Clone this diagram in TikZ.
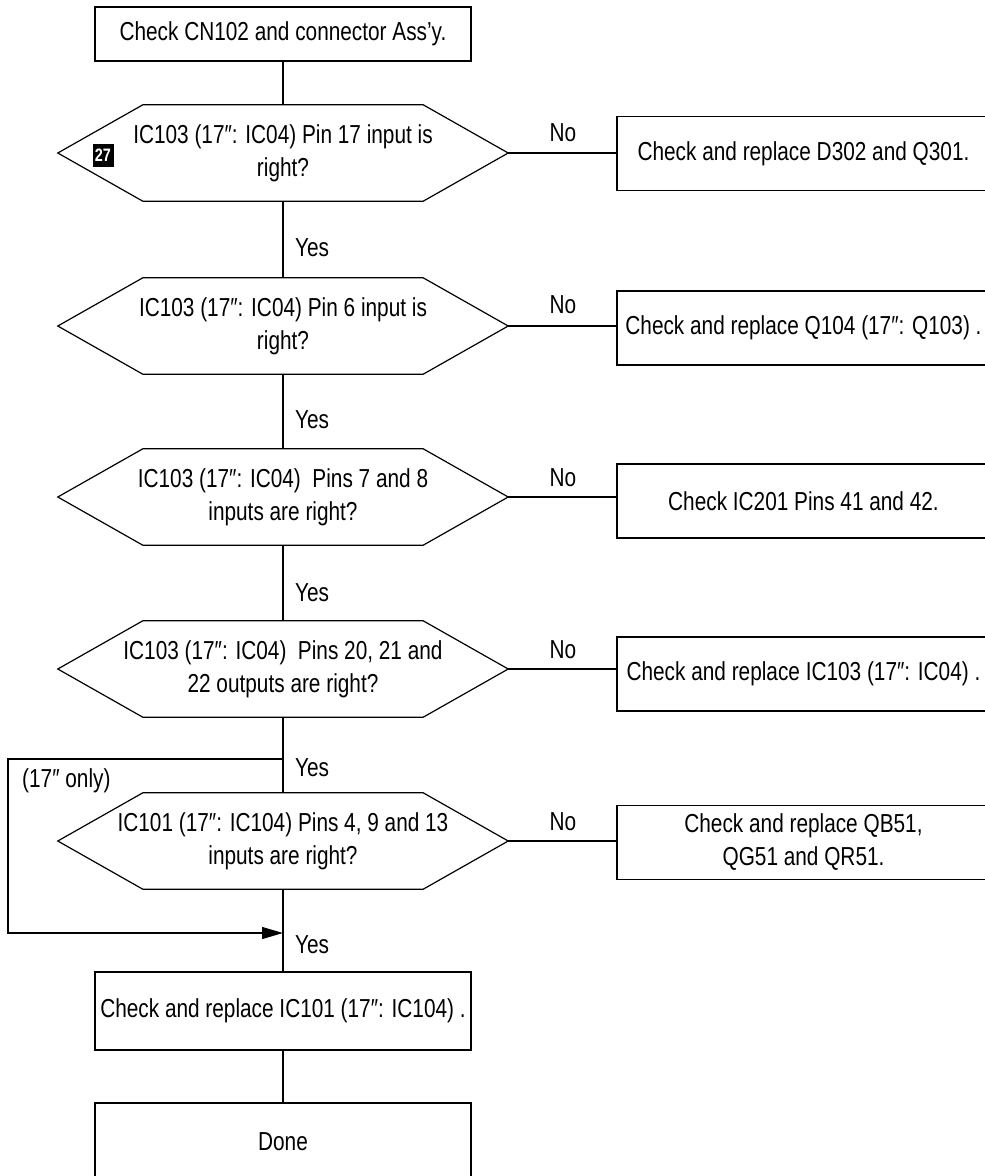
\documentclass[tikz,border=0pt]{standalone}
\usepackage{fontspec}
\setmainfont[FakeStretch=0.8]{Liberation Sans}
\usetikzlibrary{arrows.meta}
\newcommand\hexoutline[1]{%
  \draw[ln] ([xshift=85pt]#1.north west) -- ([xshift=-85pt]#1.north east) -- (#1.east)
    -- ([xshift=-85pt]#1.south east) -- ([xshift=85pt]#1.south west) -- (#1.west) -- cycle;}
\begin{document}
\begin{tikzpicture}[x=1pt,y=-1pt,
  ln/.style={line width=1.2pt, draw=black},
  txt/.style={font=\fontsize{26}{33}\selectfont, text=black},
  boxnode/.style={txt, ln, rectangle, align=center, inner sep=0pt},
  mainbox/.style={boxnode, minimum width=376pt},
  sidebox/.style={boxnode, minimum width=373pt, minimum height=74pt},
  hexnode/.style={txt, rectangle, align=center, inner sep=0pt, minimum width=450pt, minimum height=96pt},
  lbl/.style={txt, inner sep=0pt}
]
\useasboundingbox (0,0) rectangle (985,1176);
\clip (0,0) rectangle (985,1176);
\fill[white] (0,0) rectangle (985,1176);

% main column
\node[mainbox, minimum height=54pt] (start) at (283,34) {Check CN102 and connector Ass’y.};
\node[hexnode] (h1) at (283,153) {IC103 (17″: IC04) Pin 17 input is\\right?};
\node[hexnode] (h2) at (283,326) {IC103 (17″: IC04) Pin 6 input is\\right?};
\node[hexnode] (h3) at (283,497) {IC103 (17″: IC04)\ \ Pins 7 and 8\\inputs are right?};
\node[hexnode] (h4) at (283,669) {IC103 (17″: IC04)\ \ Pins 20, 21 and\\22 outputs are right?};
\node[hexnode] (h5) at (283,841) {IC101 (17″: IC104) Pins 4, 9 and 13\\inputs are right?};
\node[mainbox, minimum height=78pt] (rep) at (283,1011) {Check and replace IC101 (17″: IC104) .};
\node[mainbox, minimum height=77pt] (done) at (283,1141.5) {Done};

\hexoutline{h1}
\hexoutline{h2}
\hexoutline{h3}
\hexoutline{h4}
\hexoutline{h5}

\node[fill=black, text=white, font=\bfseries\fontsize{18}{18}\selectfont, minimum width=21pt, minimum height=23pt, inner sep=0pt] (badge) at (103,155) {27};

% side boxes
\node[sidebox] (s1) at (803.5,153.5) {Check and replace D302 and Q301.};
\node[sidebox] (s2) at (803.5,328) {Check and replace Q104 (17″: Q103) .};
\node[sidebox] (s3) at (803.5,501) {Check IC201 Pins 41 and 42.};
\node[sidebox] (s4) at (803.5,674) {Check and replace IC103 (17″: IC04) .};
\node[sidebox] (s5) at (803.5,842.5) {Check and replace QB51,\\QG51 and QR51.};

% trunk
\draw[ln] (start) -- (h1);
\draw[ln] (h1) -- (h2);
\draw[ln] (h2) -- (h3);
\draw[ln] (h3) -- (h4);
\draw[ln] (h4) -- (h5);
\draw[ln] (h5) -- (rep);
\draw[ln] (rep) -- (done);

% no branches
\draw[ln] (h1.east) -- (h1.east -| s1.west);
\draw[ln] (h2.east) -- (h2.east -| s2.west);
\draw[ln] (h3.east) -- (h3.east -| s3.west);
\draw[ln] (h4.east) -- (h4.east -| s4.west);
\draw[ln] (h5.east) -- (h5.east -| s5.west);

\node[lbl] (no1) at (563,133) {No};
\node[lbl] (no2) at (563,305) {No};
\node[lbl] (no3) at (563,478) {No};
\node[lbl] (no4) at (563,650) {No};
\node[lbl] (no5) at (563,822) {No};

\node[lbl, anchor=west] (y1) at (295,248) {Yes};
\node[lbl, anchor=west] (y2) at (295,420) {Yes};
\node[lbl, anchor=west] (y3) at (295,593) {Yes};
\node[lbl, anchor=west] (y4) at (295,768) {Yes};
\node[lbl, anchor=west] (y5) at (295,945) {Yes};

% bypass
\coordinate (b1) at (283,759);
\coordinate (b2) at (8,759);
\coordinate (b3) at (8,933);
\coordinate (b4) at (283,933);
\draw[ln, -{Triangle[length=21pt, width=12pt]}] (b1) -- (b2) -- (b3) -- (b4);
\node[lbl, anchor=west] (only) at (22,781) {(17″ only)};
\end{tikzpicture}
\end{document}
